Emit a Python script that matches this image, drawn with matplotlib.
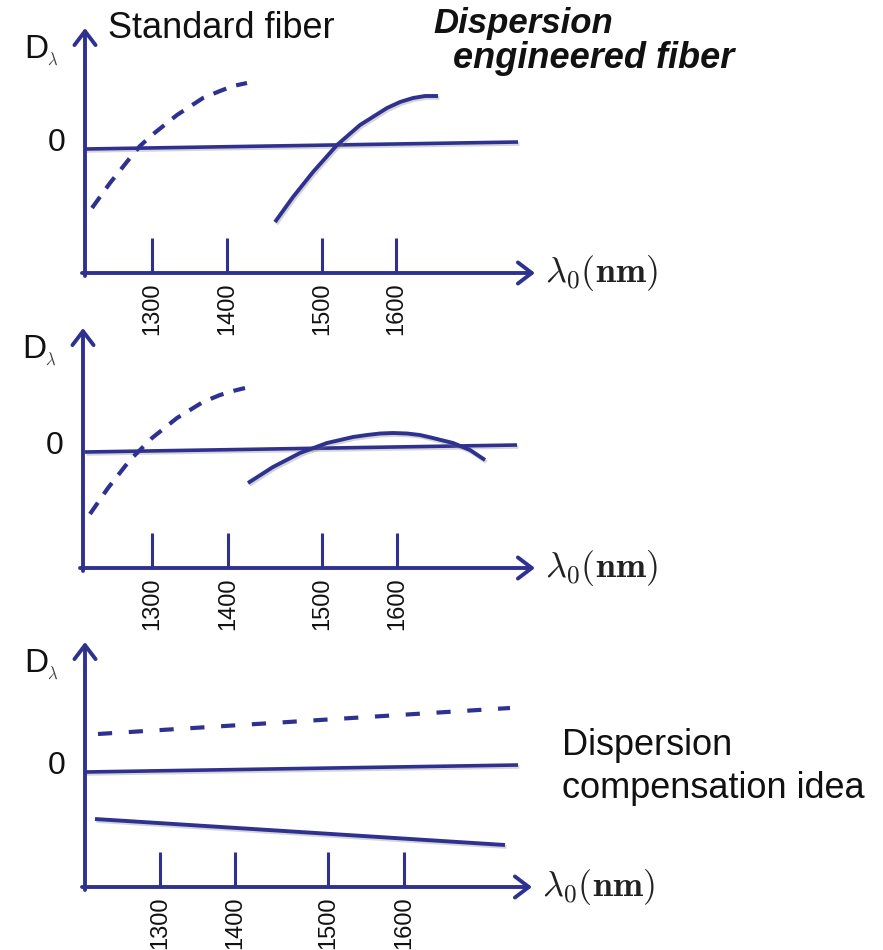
import matplotlib
matplotlib.use("Agg")
import matplotlib.pyplot as plt
from matplotlib import patheffects as pe

plt.rcParams['font.family'] = ['Liberation Sans', 'DejaVu Sans']
plt.rcParams['mathtext.fontset'] = 'cm'

NAVY = '#2f3190'
FIG_W, FIG_H = 883, 950  # pixels at dpi 100

# Schematic units: pixels measured from each panel's axis crossing.
tick_labels = ['1300', '1400', '1500', '1600']

# panel 1: standard fiber (dashed) vs dispersion-shifted fiber (solid)
p1_ticks = [67, 142, 237, 311]
p1_zero_x = [0, 433]
p1_zero_y = [124, 131]
p1_std_x = [7, 25, 45, 55, 67, 92, 118, 135, 148, 162]
p1_std_y = [65, 90, 115, 127, 138, 158, 175, 182, 187, 190]
p1_eng_x = [190, 208, 228, 252, 275, 302, 315, 328, 340, 353]
p1_eng_y = [51, 76, 101, 128, 148, 165, 171, 175, 177, 177]

# panel 2: standard fiber vs dispersion-flattened fiber
p2_ticks = [69, 145, 239, 314]
p2_zero_x = [2, 434]
p2_zero_y = [116, 123]
p2_std_x = [7, 25, 47, 54, 69, 94, 120, 137, 150, 162]
p2_std_y = [54, 80, 108, 115, 130, 150, 166, 173, 177, 180]
p2_eng_x = [165, 190, 217, 244, 270, 284, 297, 310, 324, 337, 350, 370, 387, 402]
p2_eng_y = [85, 101, 115, 125, 131, 133, 134.5, 135, 134.5, 133, 130, 125, 118, 108]

# panel 3: compensation idea
p3_ticks = [75, 150, 243, 319]
p3_zero_x = [0, 433]
p3_zero_y = [115, 122]
p3_pos_x = [13, 425]
p3_pos_y = [153, 179]
p3_neg_x = [10, 420]
p3_neg_y = [68, 42]

# panel frames: origin (px from top-left), width, height
panels = [
    dict(origin=(85, 273), w=450, h=245, ticks=p1_ticks,
         zero=(p1_zero_x, p1_zero_y),
         dashed=(p1_std_x, p1_std_y), solid=(p1_eng_x, p1_eng_y),
         dash=(3.3, 2.5)),
    dict(origin=(83, 568), w=452, h=240, ticks=p2_ticks,
         zero=(p2_zero_x, p2_zero_y),
         dashed=(p2_std_x, p2_std_y), solid=(p2_eng_x, p2_eng_y),
         dash=(3.3, 2.5)),
    dict(origin=(85, 887), w=447, h=245, ticks=p3_ticks,
         zero=(p3_zero_x, p3_zero_y),
         dashed=(p3_pos_x, p3_pos_y), solid=(p3_neg_x, p3_neg_y),
         dash=(3.4, 4.0)),
]

shadow = [pe.SimpleLineShadow(offset=(1.0, -1.4), shadow_color='#777777', alpha=0.3),
          pe.Normal()]

fig = plt.figure(figsize=(FIG_W / 100, FIG_H / 100), dpi=100)
fig.patch.set_facecolor('white')

for p in panels:
    x0, y0 = p['origin']
    w, h = p['w'], p['h']
    ax = fig.add_axes([x0 / FIG_W, (FIG_H - y0) / FIG_H, w / FIG_W, h / FIG_H])
    ax.set_xlim(0, w)
    ax.set_ylim(0, h)
    ax.patch.set_visible(False)
    for s in ax.spines.values():
        s.set_visible(False)

    # axes with arrow heads
    arrow = dict(arrowstyle='->,head_length=0.5,head_width=0.38', lw=2.8,
                 color=NAVY, mutation_scale=20, shrinkA=0, shrinkB=0)
    ax.annotate('', xy=(w, 0), xytext=(-3, 0), arrowprops=arrow,
                annotation_clip=False)
    ax.annotate('', xy=(0, h), xytext=(0, -3), arrowprops=arrow,
                annotation_clip=False)

    ax.set_xticks(p['ticks'], tick_labels, rotation=90)
    ax.tick_params(axis='x', direction='in', length=25, width=2.2, color=NAVY,
                   pad=6.5, labelsize=17, labelcolor='#111111')
    ax.set_yticks([])

    zx, zy = p['zero']
    ax.plot(zx, zy, color=NAVY, lw=2.6, solid_capstyle='butt', clip_on=False,
            path_effects=shadow)
    dx, dy = p['dashed']
    ax.plot(dx, dy, color=NAVY, lw=3.0, linestyle=(0, p['dash']),
            dash_capstyle='butt', clip_on=False)
    sx, sy = p['solid']
    ax.plot(sx, sy, color=NAVY, lw=2.8, solid_capstyle='butt',
            solid_joinstyle='round', clip_on=False, path_effects=shadow)

    # labels
    ax.text(-49, h - 22, 'D', fontsize=24, color='#111111',
            ha='center', va='center', clip_on=False)
    ax.text(-32, h - 32, r'$\lambda$', fontsize=12, color='#444444',
            ha='center', va='center', clip_on=False)
    ax.text(-28, zy[0] + 6, '0', fontsize=23, color='#111111',
            ha='center', va='center', clip_on=False)
    ax.text(w + 10, 0, r'$\lambda_0(\mathbf{nm})$', fontsize=26, color='#222222',
            ha='left', va='center', clip_on=False)


def fig_text(x, y, s, **kw):
    fig.text(x / FIG_W, 1 - y / FIG_H, s, **kw)


fig_text(108, 38, 'Standard fiber', fontsize=26, color='#111111', va='baseline')
fig_text(433, 33, 'Dispersion', fontsize=25, color='#111111', va='baseline',
         fontweight='bold', fontstyle='italic')
fig_text(453, 68, 'engineered fiber', fontsize=26, color='#111111',
         va='baseline', fontweight='bold', fontstyle='italic')
fig_text(562, 755, 'Dispersion', fontsize=26, color='#111111', va='baseline')
fig_text(562, 798, 'compensation idea', fontsize=26, color='#111111',
         va='baseline')

fig.savefig('out.png', dpi=100, facecolor='white')
